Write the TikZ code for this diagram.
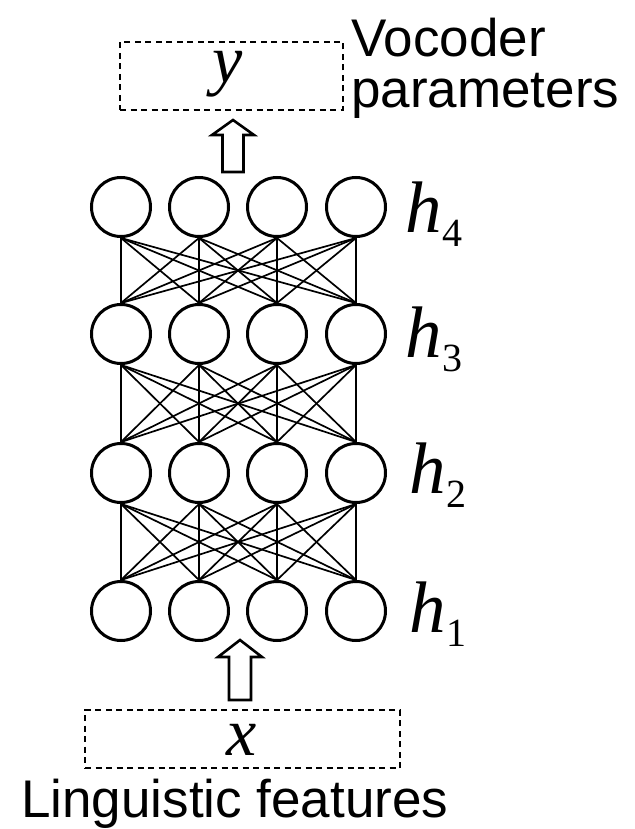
\documentclass[tikz,border=0pt]{standalone}
\usepackage{fontspec}
\setmainfont{Liberation Sans}
\newfontfamily\tnr{Liberation Serif}
\begin{document}
\begin{tikzpicture}[x=1pt,y=-1pt,
  neuron/.style={circle,draw,line width=3pt,minimum size=59pt,inner sep=0pt},
  conn/.style={line width=1.7pt},
  dbox/.style={draw,line width=2.8pt,dash pattern=on 6pt off 4.5pt,inner sep=0pt},
  barrow/.style={draw,line width=2.6pt,fill=white,line join=miter},
  sanslab/.style={anchor=base west,inner sep=0pt,font=\fontsize{53}{53}\selectfont},
  mathlab/.style={anchor=base,inner sep=0pt,font=\tnr\itshape\fontsize{68}{68}\selectfont},
  hlab/.style={anchor=base west,inner sep=0pt}]
\useasboundingbox (0,0) rectangle (634,829);
\newcommand{\hl}[1]{{\tnr\itshape\fontsize{73}{73}\selectfont h}\kern1pt\raisebox{-14pt}{\tnr\fontsize{40}{40}\selectfont #1}}
% neurons
\foreach \r/\yy in {1/611,2/473,3/334,4/207}{
  \foreach \c/\xx in {1/121,2/199,3/277,4/356}{
    \node[neuron] (n\r\c) at (\xx,\yy) {};
  }
}
% connections
\foreach \r/\s in {1/2,2/3,3/4}{
  \foreach \c in {1,2,3,4}{
    \foreach \d in {1,2,3,4}{
      \draw[conn] (n\r\c.north) -- (n\s\d.south);
    }
  }
}
% layer labels
\node[hlab] (h4) at (405,232) {\hl{4}};
\node[hlab] (h3) at (405,357) {\hl{3}};
\node[hlab] (h2) at (409,493) {\hl{2}};
\node[hlab] (h1) at (409,632) {\hl{1}};
% output box
\node[dbox,minimum width=223pt,minimum height=68pt] (ybox) at (231.5,76) {};
\node[mathlab] (ylab) at (228,83) {y};
\node[sanslab] (voc) at (351,57) {Vocoder};
\node[sanslab] (par) at (351,108) {parameters};
% input box
\node[dbox,minimum width=315pt,minimum height=58pt] (xbox) at (242.5,739) {};
\node[mathlab] (xlab) at (242,755) {x};
\node[sanslab] (lf) at (21,817) {Linguistic features};
% block arrows
\draw[barrow] (222.5,172) -- (222.5,135) -- (212,135) -- (233,120) -- (254,135) -- (243.5,135) -- (243.5,172) -- cycle;
\draw[barrow] (229,700) -- (229,657) -- (218,657) -- (240,640) -- (262,657) -- (251,657) -- (251,700) -- cycle;
\end{tikzpicture}
\end{document}
